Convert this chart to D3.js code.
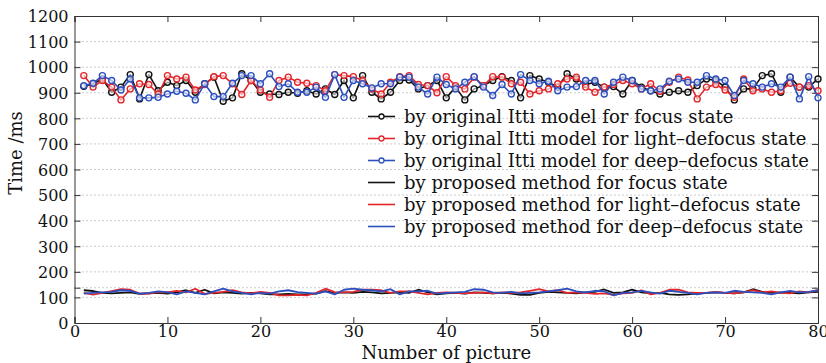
<!DOCTYPE html>
<html>
<head>
<meta charset="utf-8">
<script src="https://cdn.jsdelivr.net/npm/d3@7"></script>
<style>
  body { margin: 0; background: #fff; }
  svg { display: block; font-family: "DejaVu Serif", serif; }
</style>
</head>
<body>
<div id="chart"></div>
<script>
// picture index 1..80
const pictures = d3.range(1, 81);

// original Itti model (with markers)
const ittiFocus = [925,935,954,902,922,971,876,971,908,941,928,948,902,935,961,867,880,974,948,902,
  895,893,902,898,908,895,915,893,948,880,967,902,876,902,948,950,915,928,948,880,
  922,872,915,928,948,963,948,880,967,954,941,922,974,954,932,941,922,924,895,948,
  922,908,895,902,908,902,928,954,948,922,872,915,915,967,974,902,961,922,922,954];
const ittiLight = [967,922,948,922,872,915,935,932,895,967,954,961,911,932,963,967,935,893,948,911,
  882,948,961,941,937,928,908,971,967,963,948,915,895,941,963,967,932,928,900,963,
  928,915,961,928,963,961,935,941,895,908,915,935,954,961,922,902,922,932,948,935,
  915,935,906,941,961,950,876,922,932,911,882,954,908,915,902,908,937,922,928,908];
const ittiDeep = [928,937,967,948,911,954,880,880,882,895,906,898,872,935,885,885,937,967,967,935,
  974,924,935,902,902,922,882,971,882,948,935,919,935,935,961,961,922,895,961,932,
  915,941,963,922,889,932,895,971,948,935,945,908,922,924,948,948,895,941,961,948,
  915,908,915,945,954,941,941,967,954,948,889,948,935,922,935,922,961,876,963,880];

// proposed method (lines only)
const propFocus = [128,125,118,116,118,120,114,116,118,115,120,128,118,130,116,120,118,115,118,116,
  112,112,114,112,113,115,125,118,120,118,122,120,116,118,120,118,130,120,112,116,
  118,115,120,118,116,118,115,110,110,118,122,120,118,116,120,122,131,118,120,130,
  120,116,118,112,110,112,116,118,120,118,116,120,132,122,118,120,118,116,120,122];
const propLight = [118,111,118,125,132,130,115,115,121,120,126,120,134,114,118,122,128,120,116,122,
  118,108,108,110,108,118,134,121,120,122,130,130,128,118,124,124,118,112,118,120,
  118,116,118,120,116,120,118,120,126,132,124,128,118,120,118,114,116,110,116,118,
  128,112,118,130,130,120,118,118,122,118,116,120,128,120,124,118,116,124,120,128];
const propDeep = [115,118,120,122,128,126,115,118,124,121,112,124,118,112,124,134,124,118,112,118,
  115,124,128,121,118,115,124,112,130,134,130,128,124,132,112,124,124,126,115,118,
  120,122,132,130,120,118,122,116,118,120,124,128,134,124,120,126,124,108,118,120,
  126,120,115,126,122,118,112,118,120,118,126,122,120,118,112,120,126,120,122,128];

const xTicks = [0, 10, 20, 30, 40, 50, 60, 70, 80];
const yTicks = [0, 100, 200, 300, 400, 500, 600, 700, 800, 900, 1000, 1100, 1200];
const yExtraGrid = [138];

const seriesNames = [
  'by original Itti model for focus state',
  'by original Itti model for light\u2013defocus state',
  'by original Itti model for deep\u2013defocus state',
  'by proposed method for focus state',
  'by proposed method for light\u2013defocus state',
  'by proposed method for deep\u2013defocus state'
];
const seriesValues = [ittiFocus, ittiLight, ittiDeep, propFocus, propLight, propDeep];
const seriesColors = ['#111111', '#e3262b', '#2d4fbd', '#111111', '#e3262b', '#2d4fbd'];
const seriesMarker = [true, true, true, false, false, false];

const W = 826, H = 363;
const margin = { top: 16, right: 8, bottom: 40, left: 74.5 };
const width = W - margin.left - margin.right;
const height = H - margin.top - margin.bottom;

const svg = d3.select('#chart').append('svg')
    .attr('width', W)
    .attr('height', H);
const g = svg.append('g')
    .attr('transform', `translate(${margin.left},${margin.top})`);

const x = d3.scaleLinear().domain([0, 80]).range([0, width]);
const y = d3.scaleLinear().domain([0, 1200]).range([height, 0]);

// dotted grid
g.append('g').selectAll('line')
    .data(yTicks.slice(1, -1).concat(yExtraGrid))
    .join('line')
    .attr('x1', 0).attr('x2', width)
    .attr('y1', d => y(d)).attr('y2', d => y(d))
    .attr('stroke', '#9a9a9a')
    .attr('stroke-width', 1)
    .attr('stroke-dasharray', '1,3');

// axes, ticks inside
const axisColor = '#333';
const xAxis = g.append('g')
    .attr('transform', `translate(0,${height})`)
    .call(d3.axisBottom(x).tickValues(xTicks).tickSize(-6).tickPadding(3));
const xTop = g.append('g')
    .call(d3.axisTop(x).tickValues(xTicks).tickSize(-6).tickFormat(''));
const yAxis = g.append('g')
    .call(d3.axisLeft(y).tickValues(yTicks.concat(yExtraGrid)).tickSize(-6).tickPadding(6)
        .tickFormat(d => yTicks.includes(d) ? d : ''));
const yRight = g.append('g')
    .attr('transform', `translate(${width},0)`)
    .call(d3.axisRight(y).tickValues(yTicks.concat(yExtraGrid)).tickSize(-6).tickFormat(''));

[xAxis, xTop, yAxis, yRight].forEach(a => {
    a.select('.domain').attr('stroke', axisColor);
    a.selectAll('.tick line').attr('stroke', axisColor);
    a.selectAll('text')
        .attr('font-family', '"DejaVu Serif", serif')
        .attr('font-size', '16px')
        .attr('fill', '#111');
});
yAxis.selectAll('text').attr('dy', '0.36em');

// series
const line = d3.line()
    .x((d, i) => x(pictures[i]))
    .y(d => y(d));

// proposed first (under), then Itti
const order = [3, 4, 5, 0, 1, 2];
order.forEach(s => {
    g.append('path')
        .datum(seriesValues[s])
        .attr('fill', 'none')
        .attr('stroke', seriesColors[s])
        .attr('stroke-width', seriesMarker[s] ? 1.6 : 1.8)
        .attr('stroke-linejoin', 'round')
        .attr('d', line);
    if (seriesMarker[s]) {
        g.append('g').selectAll('circle')
            .data(seriesValues[s])
            .join('circle')
            .attr('cx', (d, i) => x(pictures[i]))
            .attr('cy', d => y(d))
            .attr('r', 3)
            .attr('fill', 'rgba(255,255,255,0.6)')
            .attr('stroke', seriesColors[s])
            .attr('stroke-width', 1.4);
    }
});

// legend (no box)
const legend = svg.append('g').attr('transform', 'translate(368,116.5)');
seriesNames.forEach((name, i) => {
    const row = legend.append('g').attr('transform', `translate(0,${i * 22})`);
    row.append('line')
        .attr('x1', 0).attr('x2', 27)
        .attr('stroke', seriesColors[i])
        .attr('stroke-width', 1.6);
    if (seriesMarker[i]) {
        row.append('circle')
            .attr('cx', 13.5).attr('r', 2.5)
            .attr('fill', '#fff')
            .attr('stroke', seriesColors[i])
            .attr('stroke-width', 1.3);
    }
    row.append('text')
        .attr('x', 36)
        .attr('dy', '0.35em')
        .attr('font-size', '18px')
        .attr('fill', '#111')
        .text(name);
});

// axis titles
svg.append('text')
    .attr('x', margin.left + width / 2)
    .attr('y', 359)
    .attr('text-anchor', 'middle')
    .attr('font-size', '18px')
    .attr('fill', '#111')
    .text('Number of picture');
svg.append('text')
    .attr('transform', `translate(22,${margin.top + 137}) rotate(-90)`)
    .attr('text-anchor', 'middle')
    .attr('font-size', '18px')
    .attr('fill', '#111')
    .text('Time /ms');
</script>
</body>
</html>
